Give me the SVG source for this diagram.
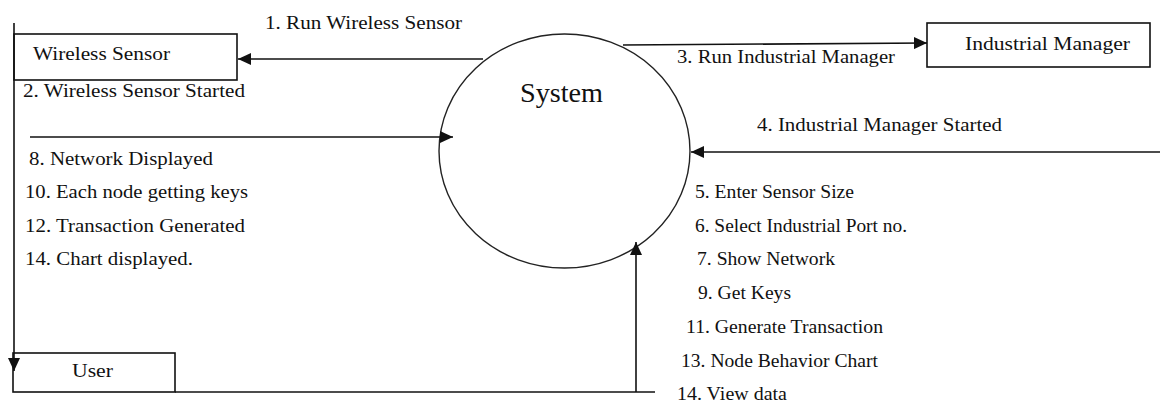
<svg xmlns="http://www.w3.org/2000/svg" width="1160" height="403" viewBox="0 0 1160 403">
<style>
.box{fill:#fff;stroke:#111;stroke-width:1.6}
.proc{fill:#fff;stroke:#222;stroke-width:1.4}
.ln{fill:none;stroke:#111;stroke-width:1.6}
.t{font-family:'Liberation Serif','DejaVu Serif',serif;fill:#111;font-size:19px}
.sys{font-size:28px}
</style>
<defs>
<marker id="ah" markerUnits="userSpaceOnUse" markerWidth="14" markerHeight="12" refX="13" refY="6" orient="auto">
<path d="M0,0 L13,6 L0,12 z" fill="#111"/>
</marker>
</defs>
<g id="node-wireless-sensor">
<rect class="box" x="14" y="34" width="223" height="46"/>
<text class="t" x="33" y="60" textLength="137" lengthAdjust="spacingAndGlyphs">Wireless Sensor</text>
</g>
<g id="node-industrial-manager">
<rect class="box" x="927" y="23" width="223" height="44"/>
<text class="t" x="965" y="50" textLength="165" lengthAdjust="spacingAndGlyphs">Industrial Manager</text>
</g>
<g id="node-user">
<rect class="box" x="13" y="353" width="162" height="39"/>
<text class="t" x="72" y="377" textLength="41" lengthAdjust="spacingAndGlyphs">User</text>
</g>
<g id="node-system">
<ellipse class="proc" cx="564.5" cy="151" rx="125.5" ry="117"/>
<text class="t sys" x="520" y="102" textLength="83" lengthAdjust="spacingAndGlyphs">System</text>
</g>
<g id="connectors">
<line class="ln" x1="483" y1="59" x2="238" y2="59" marker-end="url(#ah)"/>
<line class="ln" x1="30" y1="137" x2="453" y2="137" marker-end="url(#ah)"/>
<line class="ln" x1="623" y1="45" x2="927" y2="43" marker-end="url(#ah)"/>
<line class="ln" x1="1160" y1="152" x2="691" y2="152" marker-end="url(#ah)"/>
<line class="ln" x1="14" y1="23" x2="14" y2="371" marker-end="url(#ah)"/>
<line class="ln" x1="175" y1="392" x2="655" y2="392"/>
<line class="ln" x1="636" y1="392" x2="636" y2="242" marker-end="url(#ah)"/>
<text class="t" x="265" y="29" textLength="197" lengthAdjust="spacingAndGlyphs">1. Run Wireless Sensor</text>
<text class="t" x="23" y="97" textLength="222" lengthAdjust="spacingAndGlyphs">2. Wireless Sensor Started</text>
<text class="t" x="677" y="63" textLength="218" lengthAdjust="spacingAndGlyphs">3. Run Industrial Manager</text>
<text class="t" x="757" y="131" textLength="245" lengthAdjust="spacingAndGlyphs">4. Industrial Manager Started</text>
<text class="t" x="29" y="165" textLength="184" lengthAdjust="spacingAndGlyphs">8. Network Displayed</text>
<text class="t" x="25" y="198" textLength="223" lengthAdjust="spacingAndGlyphs">10. Each node getting keys</text>
<text class="t" x="25" y="232" textLength="220" lengthAdjust="spacingAndGlyphs">12. Transaction Generated</text>
<text class="t" x="25" y="265" textLength="168" lengthAdjust="spacingAndGlyphs">14. Chart displayed.</text>
<text class="t" x="695" y="198" textLength="159" lengthAdjust="spacingAndGlyphs">5. Enter Sensor Size</text>
<text class="t" x="695" y="232" textLength="212" lengthAdjust="spacingAndGlyphs">6. Select Industrial Port no.</text>
<text class="t" x="697" y="265" textLength="138" lengthAdjust="spacingAndGlyphs">7. Show Network</text>
<text class="t" x="698" y="299" textLength="93" lengthAdjust="spacingAndGlyphs">9. Get Keys</text>
<text class="t" x="686" y="333" textLength="197" lengthAdjust="spacingAndGlyphs">11. Generate Transaction</text>
<text class="t" x="681" y="367" textLength="197" lengthAdjust="spacingAndGlyphs">13. Node Behavior Chart</text>
<text class="t" x="677" y="400" textLength="110" lengthAdjust="spacingAndGlyphs">14. View data</text>
</g>
</svg>
